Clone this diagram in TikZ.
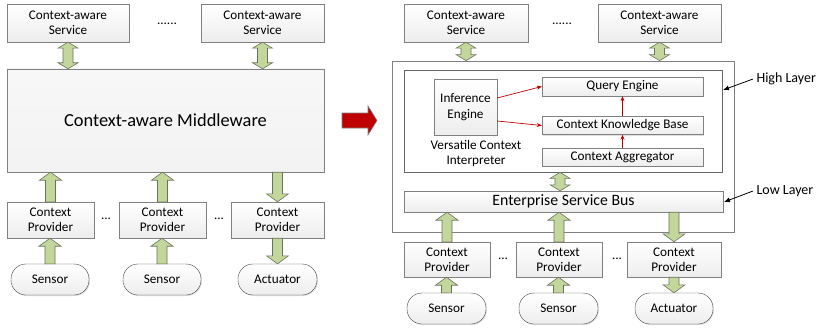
\documentclass[tikz,border=0pt]{standalone}
\usepackage{fontspec}
\setmainfont{Carlito}
\usetikzlibrary{calc,shadows,arrows.meta}

\definecolor{boxline}{RGB}{128,128,128}
\definecolor{devline}{RGB}{70,70,70}
\definecolor{fatfill}{RGB}{195,214,155}
\definecolor{fatline}{RGB}{105,115,90}
\definecolor{darkred}{RGB}{192,0,0}

\tikzset{
  box/.style={draw=boxline,top color=white,bottom color=gray!14,
    drop shadow={opacity=0.25,shadow xshift=1pt,shadow yshift=-1pt},
    inner sep=1pt,align=center,font=\fontsize{13.2}{15.3}\selectfont},
  device/.style={box,draw=devline,rounded corners=15pt},
  frame/.style={draw=boxline,fill=white,line width=0.8pt},
  fatarrow/.style={draw=fatline,fill=fatfill,line width=0.6pt},
  fatup/.style={fatarrow,to path={let \p1=(\tikztostart),\p2=(\tikztotarget),
      \n1={\y2>\y1 ? 1 : -1} in
      ({\x1-5pt},\y1) -- ({\x1-5pt},{\y2-(\n1)*8pt}) -- ({\x1-11pt},{\y2-(\n1)*8pt})
      -- (\x1,\y2) -- ({\x1+11pt},{\y2-(\n1)*8pt}) -- ({\x1+5pt},{\y2-(\n1)*8pt})
      -- ({\x1+5pt},\y1) -- cycle}},
  fatboth/.style={fatarrow,to path={let \p1=(\tikztostart),\p2=(\tikztotarget),
      \n1={\y2>\y1 ? 1 : -1} in
      (\x1,\y1) -- ({\x1+10pt},{\y1+(\n1)*6pt}) -- ({\x1+5pt},{\y1+(\n1)*6pt})
      -- ({\x1+5pt},{\y2-(\n1)*6pt}) -- ({\x1+10pt},{\y2-(\n1)*6pt}) -- (\x1,\y2)
      -- ({\x1-10pt},{\y2-(\n1)*6pt}) -- ({\x1-5pt},{\y2-(\n1)*6pt})
      -- ({\x1-5pt},{\y1+(\n1)*6pt}) -- ({\x1-10pt},{\y1+(\n1)*6pt}) -- cycle}},
  redarrow/.style={draw=darkred,line width=0.7pt,-{Stealth[length=5pt,width=4pt]}},
  plain/.style={align=center,font=\fontsize{13.2}{15.3}\selectfont},
  label/.style={font=\fontsize{14}{16}\selectfont},
}

\begin{document}
\begin{tikzpicture}[x=1pt,y=-1pt]
  \useasboundingbox (0,0) rectangle (819,329);

  % ---- left: before ----
  \node[box,minimum width=122,minimum height=38] (svcA) at (68,23) {Context-aware\\Service};
  \node[box,minimum width=123,minimum height=38] (svcB) at (262.5,23) {Context-aware\\Service};
  \node[plain] (dotsA) at (167,24) {......};
  \node[box,top color=gray!6,bottom color=gray!10,minimum width=317,minimum height=103,
    font=\fontsize{18.4}{21}\selectfont] (mw) at (165.5,120.5) {Context-aware Middleware};

  \node[box,minimum width=87,minimum height=36] (provA) at (50.5,220) {Context\\Provider};
  \node[box,minimum width=87,minimum height=36] (provB) at (162.5,220) {Context\\Provider};
  \node[box,minimum width=93,minimum height=36] (provC) at (277.5,220) {Context\\Provider};
  \node[plain] (dotsB) at (106,219) {...};
  \node[plain] (dotsC) at (219,219) {...};

  \node[device,minimum width=78,minimum height=31] (sensA) at (50,279.5) {Sensor};
  \node[device,minimum width=78,minimum height=31] (sensB) at (162,279.5) {Sensor};
  \node[device,minimum width=79,minimum height=31] (actA) at (277.5,279.5) {Actuator};

  \draw[fatboth] (svcA.south) to (svcA.south |- mw.north);
  \draw[fatboth] (svcB.south) to (svcB.south |- mw.north);
  \draw[fatup] (provA.north) to (provA.north |- mw.south);
  \draw[fatup] (provB.north) to (provB.north |- mw.south);
  \draw[fatup] (provC.north |- mw.south) to (provC.north);
  \draw[fatup] (sensA.north) to (sensA.north |- provA.south);
  \draw[fatup] (sensB.north) to (sensB.north |- provB.south);
  \draw[fatup] (provC.south) to (provC.south |- actA.north);

  % ---- transition ----
  \draw[draw=gray,fill=darkred,line width=0.6pt]
    (342,113) -- (368,113) -- (368,106) -- (377,120.5) -- (368,135) -- (368,128)
    -- (342,128) -- cycle;

  % ---- right: after ----
  \node[box,minimum width=124,minimum height=38] (svcC) at (466,23) {Context-aware\\Service};
  \node[box,minimum width=123,minimum height=38] (svcD) at (659.5,23) {Context-aware\\Service};
  \node[plain] (dotsD) at (562,24) {......};

  \node[frame,minimum width=342,minimum height=171,
    drop shadow={opacity=0.2,shadow xshift=1pt,shadow yshift=-1pt}] (core) at (563,146.5) {};
  \node[frame,draw=gray!80!black,minimum width=318,minimum height=102] (high) at (563,121) {};

  \node[box,minimum width=63,minimum height=56] (infer) at (465.5,107) {Inference\\Engine};
  \node[plain] (vci) at (476,153.5) {Versatile Context\\Interpreter};
  \node[box,minimum width=161,minimum height=19] (query) at (622.5,86.5) {Query Engine};
  \node[box,minimum width=161,minimum height=18] (ckb) at (622.5,125.5) {Context Knowledge Base};
  \node[box,minimum width=161,minimum height=18] (aggr) at (622.5,157) {Context Aggregator};

  \draw[redarrow] ([yshift=9pt]infer.east) -- (query.west);
  \draw[redarrow] ([yshift=-14pt]infer.east) -- (ckb.west);
  \draw[redarrow,{Stealth[length=5pt,width=4pt]}-] (query.south) -- (ckb.north);
  \draw[redarrow] (aggr.north) -- (ckb.south);

  \node[box,minimum width=319,minimum height=21,font=\fontsize{15.8}{18}\selectfont]
    (esb) at (563.5,201.5) {Enterprise Service Bus};

  \node[box,minimum width=86,minimum height=35] (provD) at (447,259.5) {Context\\Provider};
  \node[box,minimum width=86,minimum height=35] (provE) at (559,259.5) {Context\\Provider};
  \node[box,minimum width=94,minimum height=35] (provF) at (674,259.5) {Context\\Provider};
  \node[plain] (dotsE) at (503,259) {...};
  \node[plain] (dotsF) at (617,259) {...};

  \node[device,minimum width=79,minimum height=31] (sensC) at (446.5,308.5) {Sensor};
  \node[device,minimum width=79,minimum height=31] (sensD) at (558.5,308.5) {Sensor};
  \node[device,minimum width=78,minimum height=31] (actB) at (674,308.5) {Actuator};

  \draw[fatboth] (svcC.south) to (svcC.south |- core.north);
  \draw[fatboth] (svcD.south) to (svcD.south |- core.north);
  \draw[fatboth] (high.south -| 560,0) to (esb.north -| 560,0);
  \draw[fatup] (provD.north) to (provD.north |- esb.south);
  \draw[fatup] (provE.north) to (provE.north |- esb.south);
  \draw[fatup] (provF.north |- esb.south) to (provF.north);
  \draw[fatup] (sensC.north) to (sensC.north |- provD.south);
  \draw[fatup] (sensD.north) to (sensD.north |- provE.south);
  \draw[fatup] (provF.south) to (provF.south |- actB.north);

  % layer labels
  \node[label,anchor=west] (hiLbl) at (753,79) {High Layer};
  \node[label,anchor=west] (loLbl) at (753,191) {Low Layer};
  \coordinate (hiTip) at (723,90);
  \coordinate (loTip) at (724,202);
  \draw[line width=0.8pt,-{Latex[length=6pt,width=5pt]}] (hiLbl.west) -- (hiTip);
  \draw[line width=0.8pt,-{Latex[length=6pt,width=5pt]}] (loLbl.west) -- (loTip);
\end{tikzpicture}
\end{document}
